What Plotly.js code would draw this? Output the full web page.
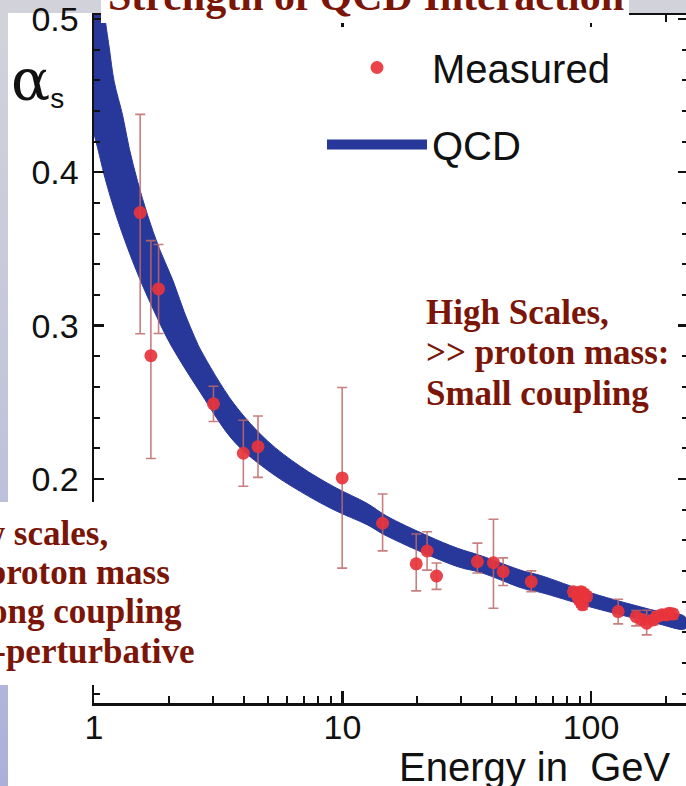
<!DOCTYPE html>
<html><head><meta charset="utf-8">
<script src="https://cdn.plot.ly/plotly-3.0.1.min.js"></script>
<style>
html,body{margin:0;padding:0;overflow:hidden;width:686px;height:786px;}
body{background:linear-gradient(180deg,#d2d3da 0%,#c3c6da 50%,#aab0da 100%);}
#bg{position:absolute;left:8px;top:13px;width:700px;height:800px;background:#ffffff;}
#chart{position:absolute;left:0;top:0;width:692px;height:786px;}
</style></head><body>
<div id="bg"></div><div id="chart"></div>
<script>
// ---- data ----
const energy   = [1.534, 1.694, 1.819, 3.025, 3.99, 4.57, 9.97, 14.5, 19.8, 21.9, 23.9, 34.9, 40.5, 44.3, 57.5,
                  85, 88, 89.5, 91.2, 91.2, 91.2, 92.5, 94, 96,
                  128.6, 152, 160, 167.5, 178, 183.6, 193, 201, 207, 214];
const alphaMeasured = [0.3737, 0.2804, 0.3239, 0.249, 0.2168, 0.2211, 0.2007, 0.1712, 0.1447, 0.1531, 0.1368, 0.1462, 0.1455, 0.1396, 0.1331,
                  0.1265, 0.1245, 0.1215, 0.1265, 0.1225, 0.1195, 0.118, 0.125, 0.1235,
                  0.1136, 0.1103, 0.1085, 0.106, 0.1081, 0.1103, 0.1115, 0.1114, 0.1125, 0.112];
const errPlus  = [0.064, 0.075, 0.029, 0.0115, 0.0215, 0.02, 0.059, 0.019, 0.0195, 0.0125, 0.0085, 0.012, 0.0283, 0.009, 0.007,
                  0.003, 0.003, 0.003, 0.003, 0.003, 0.003, 0.003, 0.003, 0.003,
                  0.008, 0.004, 0.003, 0.0085, 0.003, 0.003, 0.003, 0.003, 0.003, 0.003];
const errMinus = [0.079, 0.067, 0.029, 0.0115, 0.0215, 0.02, 0.0588, 0.018, 0.0176, 0.0125, 0.0087, 0.0075, 0.0297, 0.009, 0.0065,
                  0.003, 0.003, 0.003, 0.003, 0.003, 0.003, 0.003, 0.003, 0.003,
                  0.008, 0.006, 0.003, 0.0076, 0.003, 0.003, 0.003, 0.003, 0.003, 0.003];

const bandUpperEnergy = [1.0, 1.117, 1.152, 1.206, 1.304, 1.386, 1.498, 1.643, 1.829, 2.071, 2.306, 2.566, 2.69, 3.66, 4.98,
                         6.78, 9.23, 12.6, 15.0, 22.0, 28.9, 36.1, 53.5, 63.0, 98.9, 183.6, 240];
const bandUpper       = [0.55, 0.496, 0.481, 0.459, 0.437, 0.4156, 0.394, 0.372, 0.3505, 0.330, 0.309, 0.291, 0.284, 0.249, 0.225,
                         0.2081, 0.195, 0.184, 0.176, 0.163, 0.155, 0.150, 0.140, 0.137, 0.126, 0.114, 0.110];
const bandLowerEnergy = [1.0, 1.035, 1.117, 1.226, 1.366, 1.544, 1.774, 2.038, 2.69, 3.66, 4.98, 6.78, 9.23, 12.6, 15.0,
                         28.9, 36.1, 53.5, 63.0, 98.9, 183.6, 240];
const bandLower       = [0.425, 0.4156, 0.3939, 0.3722, 0.3505, 0.3287, 0.307, 0.2874, 0.256, 0.2245, 0.2059, 0.1918, 0.1799, 0.1701, 0.163,
                         0.143, 0.139, 0.1286, 0.126, 0.1167, 0.1059, 0.1025];

const xTickVals = [1, 10, 100];
const xTickText = ['1', '10', '100'];
const xMinorVals = [2,3,4,5,6,7,8,9,20,30,40,50,60,70,80,90,200];
const yTickVals = [0.2, 0.3, 0.4, 0.5];
const yTickText = ['0.2', '0.3', '0.4', '0.5'];

const titleText = 'Strength of QCD Interaction';
const rightNotes = ['High Scales,', '&gt;&gt; proton mass:', 'Small coupling'];
const leftNotes = ['Low scales,', '&lt; proton mass', 'Strong coupling', 'Non-perturbative'];
// ------------------------------------

const W = 692, H = 786, ML = 94, MR = 4, MT = 15, MB = 83;
const PW = W - ML - MR, PH = H - MT - MB;
const px = x => (x - ML) / PW;          // pixel -> paper x
const py = y => 1 - (y - MT) / PH;      // pixel -> paper y

const blue = '#27379a';
const red = '#e8343c';
const maroon = '#7b1508';
const serif = 'Liberation Serif, Times New Roman, serif';
const sans = 'Liberation Sans, Arial, Helvetica, sans-serif';

const band = {
  x: bandUpperEnergy.concat(bandLowerEnergy.slice().reverse()),
  y: bandUpper.concat(bandLower.slice().reverse()),
  type: 'scatter', mode: 'lines', fill: 'toself',
  fillcolor: blue, line: {color: blue, width: 1, shape: 'spline', smoothing: 1},
  showlegend: false, hoverinfo: 'skip'
};
const measured = {
  x: energy, y: alphaMeasured, type: 'scatter', mode: 'markers', name: 'Measured',
  marker: {color: red, size: 13, opacity: 0.92},
  error_y: {type: 'data', symmetric: false, array: errPlus, arrayminus: errMinus,
            color: 'rgba(190,105,105,0.85)', thickness: 1.6, width: 5},
  legendgroup: 'm'
};
const qcdKey = {
  x: [null], y: [null], type: 'scatter', mode: 'lines', name: 'QCD',
  line: {color: blue, width: 14}, legendgroup: 'q'
};

const annotations = [
  {text: titleText, xref: 'paper', yref: 'paper', x: px(106), y: py(21), xanchor: 'left', yanchor: 'bottom',
   showarrow: false, font: {family: serif, size: 42, color: maroon, weight: 'bold'}},
  {text: '<span style="font-family:DejaVu Serif;font-size:58px">α</span><sub>s</sub>',
   xref: 'paper', yref: 'paper', x: px(9), y: py(80), xanchor: 'left', yanchor: 'middle',
   showarrow: false, font: {family: sans, size: 40, color: '#111'}},
  {text: 'Energy in\u00a0\u00a0GeV', xref: 'paper', yref: 'paper', x: px(673), y: py(767), xanchor: 'right', yanchor: 'middle',
   showarrow: false, font: {family: sans, size: 40, color: '#111'}}
];
const rightY = [312, 352, 393];
rightNotes.forEach((t, i) => annotations.push({
  text: t, xref: 'paper', yref: 'paper', x: px(424), y: py(rightY[i]), xanchor: 'left', yanchor: 'middle',
  showarrow: false, font: {family: serif, size: 35, color: maroon, weight: 'bold'}}));
const leftRight = [110, 172, 184, 196];
const leftY = [533, 572, 611, 651];
leftNotes.forEach((t, i) => annotations.push({
  text: t, xref: 'paper', yref: 'paper', x: px(leftRight[i]), y: py(leftY[i]), xanchor: 'right', yanchor: 'middle',
  showarrow: false, font: {family: serif, size: 35, color: maroon, weight: 'bold'}}));

const shapes = [
  {type: 'rect', xref: 'paper', yref: 'paper', x0: px(101), x1: px(629), y0: py(-5), y1: py(23),
   fillcolor: '#ffffff', line: {width: 0}, layer: 'above'},
  {type: 'rect', xref: 'paper', yref: 'paper', x0: px(-10), x1: px(206), y0: py(502), y1: py(685),
   fillcolor: '#ffffff', line: {width: 0}, layer: 'above'}
];

const axisCommon = {
  showline: true, linecolor: '#111', linewidth: 2.5, mirror: 'allticks',
  ticks: 'inside', tickcolor: '#111', tickwidth: 2.5, showgrid: false, zeroline: false,
  ticklabeloverflow: 'allow',
  tickfont: {family: sans, size: 34, color: '#111'}
};

const layout = {
  width: W, height: H,
  margin: {l: ML, r: MR, t: MT, b: MB},
  paper_bgcolor: 'rgba(0,0,0,0)', plot_bgcolor: '#ffffff',
  showlegend: true,
  legend: {x: px(322), y: py(35), xanchor: 'left', yanchor: 'top', bgcolor: 'rgba(0,0,0,0)',
           font: {family: sans, size: 40, color: '#111'}, itemwidth: 100,
           traceorder: 'grouped', tracegroupgap: 22},
  xaxis: Object.assign({}, axisCommon, {
    type: 'log', range: [0, PW / 248.5],
    tickvals: xTickVals, ticktext: xTickText, ticklen: 12, ticklabelstandoff: -7,
    minor: {tickvals: xMinorVals, ticks: 'inside', ticklen: 7, tickwidth: 2, tickcolor: '#111'}
  }),
  yaxis: Object.assign({}, axisCommon, {
    range: [0.054, 0.5025], tickvals: yTickVals, ticktext: yTickText, ticklen: 10, ticklabelstandoff: 6,
    minor: {dtick: 0.02, tick0: 0, ticks: 'inside', ticklen: 6, tickwidth: 2, tickcolor: '#111'}
  }),
  annotations: annotations, shapes: shapes
};

Plotly.newPlot('chart', [band, measured, qcdKey], layout, {staticPlot: true, displayModeBar: false});
</script>
</body></html>
